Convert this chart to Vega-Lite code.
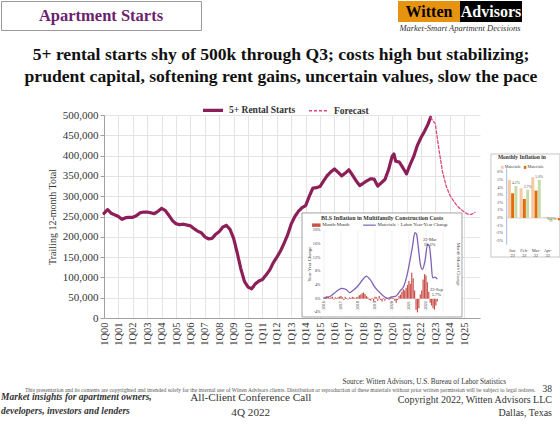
{
  "$schema": "https://vega.github.io/schema/vega-lite/v6.json",
  "background": "white",
  "padding": {"left": 0, "top": 0, "right": 0, "bottom": 0},
  "spacing": 28.5,
  "resolve": {
    "scale": {"color": "independent", "strokeDash": "independent", "strokeWidth": "independent"},
    "legend": {"color": "independent", "strokeDash": "independent", "strokeWidth": "independent"}
  },
  "config": {
    "view": {"stroke": null},
    "font": "Liberation Serif",
    "axis": {"labelFont": "Liberation Serif", "titleFont": "Liberation Serif"},
    "legend": {
      "orient": "none", "legendX": 97, "legendY": -17, "direction": "horizontal",
      "symbolType": "stroke", "symbolSize": 400, "labelFont": "Liberation Serif",
      "labelFontSize": 9.5, "labelFontWeight": "bold", "labelColor": "#333", "columnPadding": 10, "padding": 0
    }
  },
  "datasets": {
    "header": [{"label": "Apartment Starts"}],
    "logo": [{"word": "Witten"}, {"word": "Advisors"}],
    "starts": [
      {"t": 2000.0, "v": 258000, "s": "5+ Rental Starts"},
      {"t": 2000.25, "v": 267000, "s": "5+ Rental Starts"},
      {"t": 2000.5, "v": 258000, "s": "5+ Rental Starts"},
      {"t": 2000.75, "v": 254000, "s": "5+ Rental Starts"},
      {"t": 2001.0, "v": 250000, "s": "5+ Rental Starts"},
      {"t": 2001.25, "v": 243000, "s": "5+ Rental Starts"},
      {"t": 2001.5, "v": 247000, "s": "5+ Rental Starts"},
      {"t": 2001.75, "v": 248000, "s": "5+ Rental Starts"},
      {"t": 2002.0, "v": 248000, "s": "5+ Rental Starts"},
      {"t": 2002.25, "v": 252000, "s": "5+ Rental Starts"},
      {"t": 2002.5, "v": 259000, "s": "5+ Rental Starts"},
      {"t": 2002.75, "v": 261000, "s": "5+ Rental Starts"},
      {"t": 2003.0, "v": 261000, "s": "5+ Rental Starts"},
      {"t": 2003.25, "v": 259000, "s": "5+ Rental Starts"},
      {"t": 2003.5, "v": 257000, "s": "5+ Rental Starts"},
      {"t": 2003.75, "v": 263000, "s": "5+ Rental Starts"},
      {"t": 2004.0, "v": 270000, "s": "5+ Rental Starts"},
      {"t": 2004.25, "v": 265000, "s": "5+ Rental Starts"},
      {"t": 2004.5, "v": 253000, "s": "5+ Rental Starts"},
      {"t": 2004.75, "v": 240000, "s": "5+ Rental Starts"},
      {"t": 2005.0, "v": 232000, "s": "5+ Rental Starts"},
      {"t": 2005.25, "v": 230000, "s": "5+ Rental Starts"},
      {"t": 2005.5, "v": 231000, "s": "5+ Rental Starts"},
      {"t": 2005.75, "v": 229000, "s": "5+ Rental Starts"},
      {"t": 2006.0, "v": 227000, "s": "5+ Rental Starts"},
      {"t": 2006.25, "v": 220000, "s": "5+ Rental Starts"},
      {"t": 2006.5, "v": 214000, "s": "5+ Rental Starts"},
      {"t": 2006.75, "v": 210000, "s": "5+ Rental Starts"},
      {"t": 2007.0, "v": 200000, "s": "5+ Rental Starts"},
      {"t": 2007.25, "v": 195000, "s": "5+ Rental Starts"},
      {"t": 2007.5, "v": 196000, "s": "5+ Rental Starts"},
      {"t": 2007.75, "v": 206000, "s": "5+ Rental Starts"},
      {"t": 2008.0, "v": 213000, "s": "5+ Rental Starts"},
      {"t": 2008.25, "v": 224000, "s": "5+ Rental Starts"},
      {"t": 2008.5, "v": 228000, "s": "5+ Rental Starts"},
      {"t": 2008.75, "v": 218000, "s": "5+ Rental Starts"},
      {"t": 2009.0, "v": 196000, "s": "5+ Rental Starts"},
      {"t": 2009.25, "v": 160000, "s": "5+ Rental Starts"},
      {"t": 2009.5, "v": 121000, "s": "5+ Rental Starts"},
      {"t": 2009.75, "v": 90000, "s": "5+ Rental Starts"},
      {"t": 2010.0, "v": 76000, "s": "5+ Rental Starts"},
      {"t": 2010.25, "v": 72000, "s": "5+ Rental Starts"},
      {"t": 2010.5, "v": 84000, "s": "5+ Rental Starts"},
      {"t": 2010.75, "v": 91000, "s": "5+ Rental Starts"},
      {"t": 2011.0, "v": 95000, "s": "5+ Rental Starts"},
      {"t": 2011.25, "v": 106000, "s": "5+ Rental Starts"},
      {"t": 2011.5, "v": 118000, "s": "5+ Rental Starts"},
      {"t": 2011.75, "v": 136000, "s": "5+ Rental Starts"},
      {"t": 2012.0, "v": 150000, "s": "5+ Rental Starts"},
      {"t": 2012.25, "v": 165000, "s": "5+ Rental Starts"},
      {"t": 2012.5, "v": 184000, "s": "5+ Rental Starts"},
      {"t": 2012.75, "v": 205000, "s": "5+ Rental Starts"},
      {"t": 2013.0, "v": 232000, "s": "5+ Rental Starts"},
      {"t": 2013.25, "v": 250000, "s": "5+ Rental Starts"},
      {"t": 2013.5, "v": 263000, "s": "5+ Rental Starts"},
      {"t": 2013.75, "v": 272000, "s": "5+ Rental Starts"},
      {"t": 2014.0, "v": 277000, "s": "5+ Rental Starts"},
      {"t": 2014.25, "v": 300000, "s": "5+ Rental Starts"},
      {"t": 2014.5, "v": 320000, "s": "5+ Rental Starts"},
      {"t": 2014.75, "v": 321000, "s": "5+ Rental Starts"},
      {"t": 2015.0, "v": 324000, "s": "5+ Rental Starts"},
      {"t": 2015.25, "v": 338000, "s": "5+ Rental Starts"},
      {"t": 2015.5, "v": 351000, "s": "5+ Rental Starts"},
      {"t": 2015.75, "v": 360000, "s": "5+ Rental Starts"},
      {"t": 2016.0, "v": 367000, "s": "5+ Rental Starts"},
      {"t": 2016.25, "v": 359000, "s": "5+ Rental Starts"},
      {"t": 2016.5, "v": 350000, "s": "5+ Rental Starts"},
      {"t": 2016.75, "v": 357000, "s": "5+ Rental Starts"},
      {"t": 2017.0, "v": 365000, "s": "5+ Rental Starts"},
      {"t": 2017.25, "v": 352000, "s": "5+ Rental Starts"},
      {"t": 2017.5, "v": 338000, "s": "5+ Rental Starts"},
      {"t": 2017.75, "v": 326000, "s": "5+ Rental Starts"},
      {"t": 2018.0, "v": 332000, "s": "5+ Rental Starts"},
      {"t": 2018.25, "v": 338000, "s": "5+ Rental Starts"},
      {"t": 2018.5, "v": 343000, "s": "5+ Rental Starts"},
      {"t": 2018.75, "v": 342000, "s": "5+ Rental Starts"},
      {"t": 2019.0, "v": 325000, "s": "5+ Rental Starts"},
      {"t": 2019.25, "v": 333000, "s": "5+ Rental Starts"},
      {"t": 2019.5, "v": 341000, "s": "5+ Rental Starts"},
      {"t": 2019.75, "v": 365000, "s": "5+ Rental Starts"},
      {"t": 2020.0, "v": 398000, "s": "5+ Rental Starts"},
      {"t": 2020.125, "v": 404000, "s": "5+ Rental Starts"},
      {"t": 2020.25, "v": 386000, "s": "5+ Rental Starts"},
      {"t": 2020.5, "v": 384000, "s": "5+ Rental Starts"},
      {"t": 2020.75, "v": 370000, "s": "5+ Rental Starts"},
      {"t": 2021.0, "v": 355000, "s": "5+ Rental Starts"},
      {"t": 2021.25, "v": 378000, "s": "5+ Rental Starts"},
      {"t": 2021.5, "v": 398000, "s": "5+ Rental Starts"},
      {"t": 2021.75, "v": 425000, "s": "5+ Rental Starts"},
      {"t": 2022.0, "v": 444000, "s": "5+ Rental Starts"},
      {"t": 2022.25, "v": 460000, "s": "5+ Rental Starts"},
      {"t": 2022.5, "v": 478000, "s": "5+ Rental Starts"},
      {"t": 2022.667, "v": 494000, "s": "5+ Rental Starts"},
      {"t": 2022.667, "v": 494000, "s": "Forecast"},
      {"t": 2022.75, "v": 490000, "s": "Forecast"},
      {"t": 2023.0, "v": 478000, "s": "Forecast"},
      {"t": 2023.25, "v": 415000, "s": "Forecast"},
      {"t": 2023.5, "v": 360000, "s": "Forecast"},
      {"t": 2023.75, "v": 325000, "s": "Forecast"},
      {"t": 2024.0, "v": 303000, "s": "Forecast"},
      {"t": 2024.25, "v": 289000, "s": "Forecast"},
      {"t": 2024.5, "v": 277000, "s": "Forecast"},
      {"t": 2024.75, "v": 268000, "s": "Forecast"},
      {"t": 2025.0, "v": 261000, "s": "Forecast"},
      {"t": 2025.25, "v": 256000, "s": "Forecast"},
      {"t": 2025.5, "v": 255000, "s": "Forecast"},
      {"t": 2025.75, "v": 260000, "s": "Forecast"}
    ],
    "yoy": [
      {"t": 2016.0, "yoy": 0.1}, {"t": 2016.4, "yoy": 0.8}, {"t": 2016.75, "yoy": 2.2},
      {"t": 2017.04, "yoy": 3.0}, {"t": 2017.3, "yoy": 2.7}, {"t": 2017.5, "yoy": 1.8},
      {"t": 2017.7, "yoy": 2.4}, {"t": 2018.0, "yoy": 3.7}, {"t": 2018.3, "yoy": 5.7},
      {"t": 2018.5, "yoy": 6.6}, {"t": 2018.7, "yoy": 5.7}, {"t": 2018.95, "yoy": 3.7},
      {"t": 2019.2, "yoy": 2.2}, {"t": 2019.5, "yoy": 0.8}, {"t": 2019.73, "yoy": 0.1},
      {"t": 2020.0, "yoy": 0.5}, {"t": 2020.25, "yoy": 0.8}, {"t": 2020.47, "yoy": 2.2},
      {"t": 2020.7, "yoy": 3.7}, {"t": 2020.83, "yoy": 5.7}, {"t": 2021.0, "yoy": 9.6},
      {"t": 2021.2, "yoy": 15.0}, {"t": 2021.35, "yoy": 19.3}, {"t": 2021.45, "yoy": 18.8},
      {"t": 2021.55, "yoy": 15.0}, {"t": 2021.69, "yoy": 9.6}, {"t": 2021.8, "yoy": 8.6},
      {"t": 2021.94, "yoy": 11.0}, {"t": 2022.1, "yoy": 15.9}, {"t": 2022.2, "yoy": 15.4},
      {"t": 2022.3, "yoy": 11.0}, {"t": 2022.39, "yoy": 6.1}, {"t": 2022.53, "yoy": 6.3},
      {"t": 2022.67, "yoy": 5.7}
    ],
    "mom": [
      {"t": 2016.0, "mom": 0.2}, {"t": 2016.083, "mom": 0.3}, {"t": 2016.167, "mom": 0.4}, {"t": 2016.25, "mom": 0.3},
      {"t": 2016.333, "mom": 0.1}, {"t": 2016.417, "mom": 0.2}, {"t": 2016.5, "mom": 0.3}, {"t": 2016.583, "mom": -0.1},
      {"t": 2016.667, "mom": 0.2}, {"t": 2016.75, "mom": 0.1}, {"t": 2016.833, "mom": 0.2}, {"t": 2016.917, "mom": 0.3},
      {"t": 2017.0, "mom": 0.4}, {"t": 2017.083, "mom": 0.2}, {"t": 2017.167, "mom": -0.2}, {"t": 2017.25, "mom": 0.3},
      {"t": 2017.333, "mom": 0.1}, {"t": 2017.417, "mom": -0.1}, {"t": 2017.5, "mom": 0.2}, {"t": 2017.583, "mom": 0.1},
      {"t": 2017.667, "mom": 0.3}, {"t": 2017.75, "mom": 0.2}, {"t": 2017.833, "mom": 0.1}, {"t": 2017.917, "mom": 0.2},
      {"t": 2018.0, "mom": 0.3}, {"t": 2018.083, "mom": 0.5}, {"t": 2018.167, "mom": 0.6}, {"t": 2018.25, "mom": 0.8},
      {"t": 2018.333, "mom": 0.9}, {"t": 2018.417, "mom": 0.7}, {"t": 2018.5, "mom": 0.4}, {"t": 2018.583, "mom": 0.2},
      {"t": 2018.667, "mom": -0.2}, {"t": 2018.75, "mom": -0.3}, {"t": 2018.833, "mom": 0.1}, {"t": 2018.917, "mom": -0.4},
      {"t": 2019.0, "mom": 0.3}, {"t": 2019.083, "mom": 0.2}, {"t": 2019.167, "mom": -0.3}, {"t": 2019.25, "mom": 0.4},
      {"t": 2019.333, "mom": -0.2}, {"t": 2019.417, "mom": -0.4}, {"t": 2019.5, "mom": 0.1}, {"t": 2019.583, "mom": -0.3},
      {"t": 2019.667, "mom": 0.2}, {"t": 2019.75, "mom": 0.1}, {"t": 2019.833, "mom": -0.2}, {"t": 2019.917, "mom": 0.3},
      {"t": 2020.0, "mom": 0.2}, {"t": 2020.083, "mom": 0.1}, {"t": 2020.167, "mom": -0.3}, {"t": 2020.25, "mom": -0.6},
      {"t": 2020.333, "mom": -0.2}, {"t": 2020.417, "mom": 0.4}, {"t": 2020.5, "mom": 0.6}, {"t": 2020.583, "mom": 1.0},
      {"t": 2020.667, "mom": 1.4}, {"t": 2020.75, "mom": 1.2}, {"t": 2020.833, "mom": 1.6}, {"t": 2020.917, "mom": 2.0},
      {"t": 2021.0, "mom": 2.6}, {"t": 2021.083, "mom": 2.2}, {"t": 2021.167, "mom": 3.8}, {"t": 2021.25, "mom": 3.0},
      {"t": 2021.333, "mom": 1.2}, {"t": 2021.417, "mom": -1.6}, {"t": 2021.5, "mom": -2.0}, {"t": 2021.583, "mom": -1.4},
      {"t": 2021.667, "mom": 0.6}, {"t": 2021.75, "mom": 1.2}, {"t": 2021.833, "mom": 2.8}, {"t": 2021.917, "mom": 3.6},
      {"t": 2022.0, "mom": 3.4}, {"t": 2022.083, "mom": 2.4}, {"t": 2022.167, "mom": 1.0}, {"t": 2022.25, "mom": -0.6},
      {"t": 2022.333, "mom": -1.0}, {"t": 2022.417, "mom": -1.4}, {"t": 2022.5, "mom": -1.6}, {"t": 2022.583, "mom": -1.0},
      {"t": 2022.667, "mom": -0.4}
    ],
    "insetGrid": [{"yr": 2016}, {"yr": 2017}, {"yr": 2018}, {"yr": 2019}, {"yr": 2020}, {"yr": 2021}, {"yr": 2022}, {"yr": 2023}],
    "insetYears": [
      {"yr": 2016, "lbl": "2016"}, {"yr": 2017, "lbl": "2017"}, {"yr": 2018, "lbl": "2018"}, {"yr": 2019, "lbl": "2019"},
      {"yr": 2020, "lbl": "2020"}, {"yr": 2021, "lbl": "2021"}, {"yr": 2022, "lbl": "2022"}
    ],
    "insetTicks": [
      {"p": 20, "lbl": "20%"}, {"p": 16, "lbl": "16%"}, {"p": 12, "lbl": "12%"}, {"p": 8, "lbl": "8%"},
      {"p": 4, "lbl": "4%"}, {"p": 0, "lbl": "0%"}, {"p": -4, "lbl": "-4%"}
    ],
    "insetNotes": [
      {"t": 2022.1, "yoy": 15.9, "lbl": ["22-Mar", "16.5%"], "pos": "above"},
      {"t": 2022.67, "yoy": 5.7, "lbl": ["22-Sep", "5.7%"], "pos": "below"}
    ],
    "monthly": [
      {"m": 0, "a": 5.0, "b": 3.25, "c": 4.2, "cl": "4.2%", "lbl": ["Jan-", "22"]},
      {"m": 1, "a": 3.9, "b": 2.5, "c": 3.7, "cl": "3.7%", "lbl": ["Feb-", "22"]},
      {"m": 2, "a": 5.35, "b": 3.6, "c": 5.0, "cl": "5.0%", "lbl": ["Mar-", "22"]},
      {"m": 3, "a": 0.1, "b": 0.05, "c": -0.5, "cl": "-0.5%", "lbl": ["Apr-", "22"]},
      {"m": 4, "a": -0.2, "b": -0.3}
    ],
    "monthlyTicks": [
      {"p": 6, "lbl": "6%"}, {"p": 5, "lbl": "5%"}, {"p": 4, "lbl": "4%"}, {"p": 3, "lbl": "3%"}, {"p": 2, "lbl": "2%"},
      {"p": 1, "lbl": "1%"}, {"p": 0, "lbl": "0%"}, {"p": -1, "lbl": "-1%"}, {"p": -2, "lbl": "-2%"}, {"p": -3, "lbl": "-3%"}
    ],
    "footer": [
      {"grp": "src", "col": "right", "line": "src", "txt": "Source:  Witten Advisors, U.S. Bureau of Labor Statistics"},
      {"grp": "note", "col": "center", "line": "note", "txt": "This presentation and its contents are copyrighted and intended solely for the internal use of Witten Advisors clients.  Distribution or reproduction of these materials without prior written permission will be subject to legal redress."},
      {"grp": "page", "col": "right", "line": "note", "txt": "38"},
      {"grp": "left", "col": "left", "line": "blk", "txt": ["Market insights for apartment owners,", "developers, investors and lenders"]},
      {"grp": "center", "col": "center", "line": "blk", "txt": ["All-Client Conference Call", "4Q 2022"]},
      {"grp": "right", "col": "right", "line": "blk", "txt": ["Copyright 2022, Witten Advisors LLC", "Dallas, Texas"]}
    ]
  },
  "vconcat": [
    {
      "spacing": 13,
      "resolve": {
        "scale": {"color": "independent", "strokeDash": "independent", "strokeWidth": "independent"},
        "legend": {"color": "independent", "strokeDash": "independent", "strokeWidth": "independent"}
      },
      "vconcat": [
        {
          "spacing": 196,
          "hconcat": [
            {
              "width": 200, "height": 29,
              "view": {"stroke": "#9a9a9a", "strokeWidth": 1, "fill": "white"},
              "data": {"name": "header"},
              "mark": {"type": "text", "font": "Liberation Serif", "fontSize": 16.5, "fontWeight": "bold", "color": "#6B1F6F"},
              "encoding": {"text": {"field": "label"}}
            },
            {
              "width": 124, "height": 21,
              "title": {"text": "Market-Smart Apartment Decisions", "orient": "bottom", "anchor": "middle", "font": "Liberation Serif", "fontSize": 8.5, "fontStyle": "italic", "fontWeight": "normal", "color": "#333", "offset": 2},
              "data": {"name": "logo"},
              "encoding": {
                "x": {"field": "word", "type": "nominal", "scale": {"type": "band", "domain": ["Witten", "Advisors"], "paddingInner": 0, "paddingOuter": 0}, "axis": null}
              },
              "layer": [
                {
                  "mark": {"type": "rect"},
                  "encoding": {"color": {"condition": {"test": "datum.word === 'Witten'", "value": "#E8930F"}, "value": "#000000"}}
                },
                {
                  "mark": {"type": "text", "font": "Liberation Serif", "fontSize": 16, "fontWeight": "bold"},
                  "encoding": {
                    "text": {"field": "word"},
                    "color": {"condition": {"test": "datum.word === 'Advisors'", "value": "#ffffff"}, "value": "#000000"}
                  }
                }
              ]
            }
          ]
        },
        {
          "spacing": 0,
          "resolve": {
            "scale": {"color": "independent", "strokeDash": "independent", "strokeWidth": "independent"},
            "legend": {"color": "independent", "strokeDash": "independent", "strokeWidth": "independent"}
          },
          "hconcat": [
            {"width": 23, "height": 10, "data": {"values": []}, "mark": "point"},
            {
              "width": 376, "height": 203,
              "title": {
                "text": ["5+ rental starts shy of 500k through Q3; costs high but stabilizing;", "prudent capital, softening rent gains, uncertain values, slow the pace"],
                "font": "Liberation Serif", "fontSize": 17.6, "fontWeight": "bold", "color": "#111",
                "anchor": "middle", "frame": "group", "dx": -11, "offset": 12, "lineHeight": 22
              },
              "resolve": {"scale": {"x": "independent", "y": "independent"}},
              "layer": [
                {
                  "data": {"name": "starts"},
                  "mark": {"type": "line", "strokeJoin": "round", "strokeCap": "round"},
                  "encoding": {
                    "x": {
                      "field": "t", "type": "quantitative",
                      "scale": {"domain": [2000, 2026.1], "nice": false, "zero": false},
                      "axis": {
                        "title": null,
                        "values": [2000, 2001, 2002, 2003, 2004, 2005, 2006, 2007, 2008, 2009, 2010, 2011, 2012, 2013, 2014, 2015, 2016, 2017, 2018, 2019, 2020, 2021, 2022, 2023, 2024, 2025],
                        "labelExpr": "'1Q' + substring(toString(datum.value), 2, 4)",
                        "labelAngle": 270, "labelFontSize": 10.5, "labelColor": "#333", "labelPadding": 4,
                        "ticks": false, "grid": true, "gridColor": "#e4e4e4", "domainColor": "#a0a0a0"
                      }
                    },
                    "y": {
                      "field": "v", "type": "quantitative",
                      "scale": {"domain": [0, 500000], "nice": false},
                      "axis": {
                        "values": [0, 50000, 100000, 150000, 200000, 250000, 300000, 350000, 400000, 450000, 500000],
                        "format": ",d", "labelFontSize": 11, "labelColor": "#333",
                        "grid": true, "gridColor": "#e4e4e4", "tickSize": 4, "tickColor": "#a0a0a0", "domainColor": "#a0a0a0",
                        "title": "Trailing 12-month Total", "titleFontSize": 10, "titleFontWeight": "normal", "titleColor": "#333", "titlePadding": 5
                      }
                    },
                    "color": {"field": "s", "type": "nominal", "scale": {"domain": ["5+ Rental Starts", "Forecast"], "range": ["#8C1F58", "#E2467F"]}, "legend": {"title": null}},
                    "strokeDash": {"field": "s", "type": "nominal", "scale": {"domain": ["5+ Rental Starts", "Forecast"], "range": [[1, 0], [3, 2]]}, "legend": {"title": null}},
                    "strokeWidth": {"field": "s", "type": "nominal", "scale": {"type": "point", "padding": 0, "domain": ["5+ Rental Starts", "Forecast"], "range": [3.2, 1.3]}, "legend": {"title": null}}
                  }
                },
                {
                  "data": {"values": [{}]},
                  "mark": {"type": "rect", "fill": "white", "stroke": "#8c8c8c", "strokeWidth": 0.8},
                  "encoding": {
                    "x": {"datum": 2014.71, "type": "quantitative", "scale": {"domain": [2003.06, 2025.18], "nice": false, "zero": false}, "axis": null},
                    "x2": {"datum": 2024.12},
                    "y": {"datum": 25.06, "type": "quantitative", "scale": {"domain": [-5.64, 53.7], "nice": false, "zero": false}, "axis": null},
                    "y2": {"datum": -5.35}
                  }
                },
                {
                  "data": {"name": "insetGrid"},
                  "mark": {"type": "rule", "color": "#e6e6e6", "strokeWidth": 0.6},
                  "encoding": {
                    "x": {"field": "yr", "type": "quantitative", "scale": {"domain": [2003.06, 2025.18], "nice": false, "zero": false}, "axis": null},
                    "y": {"datum": -4, "type": "quantitative", "scale": {"domain": [-5.64, 53.7], "nice": false, "zero": false}, "axis": null},
                    "y2": {"datum": 20}
                  }
                },
                {
                  "data": {"name": "mom"},
                  "mark": {"type": "rule", "color": "#C9504B", "strokeWidth": 1.2},
                  "encoding": {
                    "x": {"field": "t", "type": "quantitative", "scale": {"domain": [2003.06, 2025.18], "nice": false, "zero": false}, "axis": null},
                    "y": {"field": "mom", "type": "quantitative", "scale": {"domain": [-2.82, 26.85], "nice": false, "zero": false}, "axis": null},
                    "y2": {"datum": 0}
                  }
                },
                {
                  "data": {"name": "yoy"},
                  "mark": {"type": "line", "color": "#7F62B5", "strokeWidth": 1.3, "interpolate": "monotone"},
                  "encoding": {
                    "x": {"field": "t", "type": "quantitative", "scale": {"domain": [2003.06, 2025.18], "nice": false, "zero": false}, "axis": null},
                    "y": {"field": "yoy", "type": "quantitative", "scale": {"domain": [-5.64, 53.7], "nice": false, "zero": false}, "axis": null}
                  }
                },
                {
                  "data": {"values": [{}]},
                  "mark": {"type": "text", "fontSize": 5.9, "fontWeight": "bold", "color": "#333"},
                  "encoding": {
                    "x": {"datum": 2019.42, "type": "quantitative", "scale": {"domain": [2003.06, 2025.18], "nice": false, "zero": false}, "axis": null},
                    "y": {"datum": 23.6, "type": "quantitative", "scale": {"domain": [-5.64, 53.7], "nice": false, "zero": false}, "axis": null},
                    "text": {"value": "BLS Inflation in Multifamily Construction Costs"}
                  }
                },
                {
                  "data": {"values": [{}]},
                  "mark": {"type": "rect", "fill": "#C9504B"},
                  "encoding": {
                    "x": {"datum": 2015.3, "type": "quantitative", "scale": {"domain": [2003.06, 2025.18], "nice": false, "zero": false}, "axis": null},
                    "x2": {"datum": 2015.8},
                    "y": {"datum": 22.0, "type": "quantitative", "scale": {"domain": [-5.64, 53.7], "nice": false, "zero": false}, "axis": null},
                    "y2": {"datum": 21.0}
                  }
                },
                {
                  "data": {"values": [{}]},
                  "mark": {"type": "text", "fontSize": 4.8, "align": "left", "color": "#333"},
                  "encoding": {
                    "x": {"datum": 2015.9, "type": "quantitative", "scale": {"domain": [2003.06, 2025.18], "nice": false, "zero": false}, "axis": null},
                    "y": {"datum": 21.5, "type": "quantitative", "scale": {"domain": [-5.64, 53.7], "nice": false, "zero": false}, "axis": null},
                    "text": {"value": "Month-Month"}
                  }
                },
                {
                  "data": {"values": [{}]},
                  "mark": {"type": "rule", "color": "#7F62B5", "strokeWidth": 1.2},
                  "encoding": {
                    "x": {"datum": 2018.3, "type": "quantitative", "scale": {"domain": [2003.06, 2025.18], "nice": false, "zero": false}, "axis": null},
                    "x2": {"datum": 2019.05},
                    "y": {"datum": 21.5, "type": "quantitative", "scale": {"domain": [-5.64, 53.7], "nice": false, "zero": false}, "axis": null}
                  }
                },
                {
                  "data": {"values": [{}]},
                  "mark": {"type": "text", "fontSize": 4.8, "align": "left", "color": "#333"},
                  "encoding": {
                    "x": {"datum": 2019.15, "type": "quantitative", "scale": {"domain": [2003.06, 2025.18], "nice": false, "zero": false}, "axis": null},
                    "y": {"datum": 21.5, "type": "quantitative", "scale": {"domain": [-5.64, 53.7], "nice": false, "zero": false}, "axis": null},
                    "text": {"value": "Materials + Labor Year-Year Change"}
                  }
                },
                {
                  "data": {"values": [{}]},
                  "mark": {"type": "text", "fontSize": 4.8, "angle": 270, "color": "#333"},
                  "encoding": {
                    "x": {"datum": 2015.18, "type": "quantitative", "scale": {"domain": [2003.06, 2025.18], "nice": false, "zero": false}, "axis": null},
                    "y": {"datum": 10.1, "type": "quantitative", "scale": {"domain": [-5.64, 53.7], "nice": false, "zero": false}, "axis": null},
                    "text": {"value": "Year-Year Change"}
                  }
                },
                {
                  "data": {"values": [{}]},
                  "mark": {"type": "text", "fontSize": 4.8, "angle": 90, "color": "#333"},
                  "encoding": {
                    "x": {"datum": 2023.88, "type": "quantitative", "scale": {"domain": [2003.06, 2025.18], "nice": false, "zero": false}, "axis": null},
                    "y": {"datum": 10.1, "type": "quantitative", "scale": {"domain": [-5.64, 53.7], "nice": false, "zero": false}, "axis": null},
                    "text": {"value": "Month-Month Change"}
                  }
                },
                {
                  "data": {"name": "insetTicks"},
                  "mark": {"type": "text", "fontSize": 4.2, "align": "right", "color": "#444"},
                  "encoding": {
                    "x": {"datum": 2015.8, "type": "quantitative", "scale": {"domain": [2003.06, 2025.18], "nice": false, "zero": false}, "axis": null},
                    "y": {"field": "p", "type": "quantitative", "scale": {"domain": [-5.64, 53.7], "nice": false, "zero": false}, "axis": null},
                    "text": {"field": "lbl"}
                  }
                },
                {
                  "data": {"name": "insetYears"},
                  "mark": {"type": "text", "fontSize": 4.2, "angle": 270, "align": "right", "color": "#444"},
                  "encoding": {
                    "x": {"field": "yr", "type": "quantitative", "scale": {"domain": [2003.06, 2025.18], "nice": false, "zero": false}, "axis": null},
                    "y": {"datum": -0.7, "type": "quantitative", "scale": {"domain": [-5.64, 53.7], "nice": false, "zero": false}, "axis": null},
                    "text": {"field": "lbl"}
                  }
                },
                {
                  "data": {"name": "insetNotes"},
                  "transform": [{"filter": "datum.pos === 'above'"}],
                  "mark": {"type": "text", "fontSize": 4.5, "baseline": "bottom", "dy": -2, "dx": 2, "lineHeight": 5, "color": "#333"},
                  "encoding": {
                    "x": {"field": "t", "type": "quantitative", "scale": {"domain": [2003.06, 2025.18], "nice": false, "zero": false}, "axis": null},
                    "y": {"field": "yoy", "type": "quantitative", "scale": {"domain": [-5.64, 53.7], "nice": false, "zero": false}, "axis": null},
                    "text": {"field": "lbl"}
                  }
                },
                {
                  "data": {"name": "insetNotes"},
                  "transform": [{"filter": "datum.pos === 'below'"}],
                  "mark": {"type": "text", "fontSize": 4.5, "baseline": "top", "dy": 8, "dx": -1, "lineHeight": 5, "color": "#333"},
                  "encoding": {
                    "x": {"field": "t", "type": "quantitative", "scale": {"domain": [2003.06, 2025.18], "nice": false, "zero": false}, "axis": null},
                    "y": {"field": "yoy", "type": "quantitative", "scale": {"domain": [-5.64, 53.7], "nice": false, "zero": false}, "axis": null},
                    "text": {"field": "lbl"}
                  }
                },
                {
                  "data": {"values": [{}]},
                  "mark": {"type": "rect", "fill": "white", "stroke": "#b8b8b8", "strokeWidth": 0.8},
                  "encoding": {
                    "x": {"datum": -1.855, "type": "quantitative", "scale": {"domain": [-34.93, -2.79], "nice": false, "zero": false}, "axis": null},
                    "x2": {"datum": 4.04},
                    "y": {"datum": 8.4, "type": "quantitative", "scale": {"domain": [-13.12, 13.52], "nice": false, "zero": false}, "axis": null},
                    "y2": {"datum": -5.12}
                  }
                },
                {
                  "data": {"values": [{}]},
                  "mark": {"type": "rule", "color": "#b0b0b0", "strokeWidth": 0.5},
                  "encoding": {
                    "x": {"datum": -0.51, "type": "quantitative", "scale": {"domain": [-34.93, -2.79], "nice": false, "zero": false}, "axis": null},
                    "x2": {"datum": 3.95},
                    "y": {"datum": 0, "type": "quantitative", "scale": {"domain": [-13.12, 13.52], "nice": false, "zero": false}, "axis": null}
                  }
                },
                {
                  "data": {"values": [{}]},
                  "mark": {"type": "rule", "color": "#8EA9DB", "strokeWidth": 0.8},
                  "encoding": {
                    "x": {"datum": -0.51, "type": "quantitative", "scale": {"domain": [-34.93, -2.79], "nice": false, "zero": false}, "axis": null},
                    "y": {"datum": 6.5, "type": "quantitative", "scale": {"domain": [-13.12, 13.52], "nice": false, "zero": false}, "axis": null},
                    "y2": {"datum": -3.5}
                  }
                },
                {
                  "data": {"name": "monthly"},
                  "mark": {"type": "rule", "color": "#F7C8A2", "strokeWidth": 3},
                  "encoding": {
                    "x": {"field": "m", "type": "quantitative", "scale": {"domain": [-34.65, -2.51], "nice": false, "zero": false}, "axis": null},
                    "y": {"field": "a", "type": "quantitative", "scale": {"domain": [-13.12, 13.52], "nice": false, "zero": false}, "axis": null},
                    "y2": {"datum": 0}
                  }
                },
                {
                  "data": {"name": "monthly"},
                  "mark": {"type": "rule", "color": "#E46C0A", "strokeWidth": 3},
                  "encoding": {
                    "x": {"field": "m", "type": "quantitative", "scale": {"domain": [-34.93, -2.79], "nice": false, "zero": false}, "axis": null},
                    "y": {"field": "b", "type": "quantitative", "scale": {"domain": [-13.12, 13.52], "nice": false, "zero": false}, "axis": null},
                    "y2": {"datum": 0}
                  }
                },
                {
                  "data": {"name": "monthly"},
                  "mark": {"type": "rule", "color": "#C6DDAA", "strokeWidth": 3},
                  "encoding": {
                    "x": {"field": "m", "type": "quantitative", "scale": {"domain": [-35.21, -3.07], "nice": false, "zero": false}, "axis": null},
                    "y": {"field": "c", "type": "quantitative", "scale": {"domain": [-13.12, 13.52], "nice": false, "zero": false}, "axis": null},
                    "y2": {"datum": 0}
                  }
                },
                {
                  "data": {"name": "monthly"},
                  "mark": {"type": "text", "fontSize": 3.8, "baseline": "bottom", "dy": -1, "color": "#555"},
                  "encoding": {
                    "x": {"field": "m", "type": "quantitative", "scale": {"domain": [-35.21, -3.07], "nice": false, "zero": false}, "axis": null},
                    "y": {"field": "c", "type": "quantitative", "scale": {"domain": [-13.12, 13.52], "nice": false, "zero": false}, "axis": null},
                    "text": {"field": "cl"}
                  }
                },
                {
                  "data": {"name": "monthlyTicks"},
                  "mark": {"type": "text", "fontSize": 4.2, "align": "right", "color": "#444"},
                  "encoding": {
                    "x": {"datum": -0.83, "type": "quantitative", "scale": {"domain": [-34.93, -2.79], "nice": false, "zero": false}, "axis": null},
                    "y": {"field": "p", "type": "quantitative", "scale": {"domain": [-13.12, 13.52], "nice": false, "zero": false}, "axis": null},
                    "text": {"field": "lbl"}
                  }
                },
                {
                  "data": {"name": "monthly"},
                  "transform": [{"filter": "isValid(datum.lbl)"}],
                  "mark": {"type": "text", "fontSize": 4.4, "baseline": "top", "lineHeight": 5, "color": "#444"},
                  "encoding": {
                    "x": {"field": "m", "type": "quantitative", "scale": {"domain": [-34.93, -2.79], "nice": false, "zero": false}, "axis": null},
                    "y": {"datum": -4.1, "type": "quantitative", "scale": {"domain": [-13.12, 13.52], "nice": false, "zero": false}, "axis": null},
                    "text": {"field": "lbl"}
                  }
                },
                {
                  "data": {"values": [{}]},
                  "mark": {"type": "text", "fontSize": 5.5, "fontWeight": "bold", "align": "left", "color": "#333"},
                  "encoding": {
                    "x": {"datum": -1.26, "type": "quantitative", "scale": {"domain": [-34.93, -2.79], "nice": false, "zero": false}, "axis": null},
                    "y": {"datum": 8.0, "type": "quantitative", "scale": {"domain": [-13.12, 13.52], "nice": false, "zero": false}, "axis": null},
                    "text": {"value": "Monthly Inflation in"}
                  }
                },
                {
                  "data": {"values": [{}]},
                  "mark": {"type": "rect", "fill": "#F7C8A2"},
                  "encoding": {
                    "x": {"datum": -1.0, "type": "quantitative", "scale": {"domain": [-34.93, -2.79], "nice": false, "zero": false}, "axis": null},
                    "x2": {"datum": -0.78},
                    "y": {"datum": 6.85, "type": "quantitative", "scale": {"domain": [-13.12, 13.52], "nice": false, "zero": false}, "axis": null},
                    "y2": {"datum": 6.45}
                  }
                },
                {
                  "data": {"values": [{}]},
                  "mark": {"type": "text", "fontSize": 4.2, "align": "left", "color": "#444"},
                  "encoding": {
                    "x": {"datum": -0.68, "type": "quantitative", "scale": {"domain": [-34.93, -2.79], "nice": false, "zero": false}, "axis": null},
                    "y": {"datum": 6.65, "type": "quantitative", "scale": {"domain": [-13.12, 13.52], "nice": false, "zero": false}, "axis": null},
                    "text": {"value": "Materials"}
                  }
                },
                {
                  "data": {"values": [{}]},
                  "mark": {"type": "rect", "fill": "#E46C0A"},
                  "encoding": {
                    "x": {"datum": 0.95, "type": "quantitative", "scale": {"domain": [-34.93, -2.79], "nice": false, "zero": false}, "axis": null},
                    "x2": {"datum": 1.17},
                    "y": {"datum": 6.85, "type": "quantitative", "scale": {"domain": [-13.12, 13.52], "nice": false, "zero": false}, "axis": null},
                    "y2": {"datum": 6.45}
                  }
                },
                {
                  "data": {"values": [{}]},
                  "mark": {"type": "text", "fontSize": 4.2, "align": "left", "color": "#444"},
                  "encoding": {
                    "x": {"datum": 1.27, "type": "quantitative", "scale": {"domain": [-34.93, -2.79], "nice": false, "zero": false}, "axis": null},
                    "y": {"datum": 6.65, "type": "quantitative", "scale": {"domain": [-13.12, 13.52], "nice": false, "zero": false}, "axis": null},
                    "text": {"value": "Materials"}
                  }
                }
              ]
            }
          ]
        }
      ]
    },
    {
      "width": 551, "height": 30,
      "data": {"name": "footer"},
      "encoding": {
        "x": {"field": "col", "type": "nominal", "scale": {"type": "band", "domain": ["left", "center", "right"], "paddingInner": 0, "paddingOuter": 0}, "axis": null},
        "y": {"field": "line", "type": "ordinal", "scale": {"type": "point", "domain": ["src", "note", "blk"], "padding": 1, "align": 0.5}, "axis": null},
        "text": {"field": "txt"}
      },
      "layer": [
        {
          "transform": [{"filter": "datum.grp === 'src'"}],
          "mark": {"type": "text", "align": "right", "fontSize": 7.2, "color": "#333"},
          "encoding": {"x": {"field": "col", "type": "nominal", "bandPosition": 0.75, "scale": {"type": "band", "domain": ["left", "center", "right"], "paddingInner": 0, "paddingOuter": 0}, "axis": null}}
        },
        {
          "transform": [{"filter": "datum.grp === 'note'"}],
          "mark": {"type": "text", "align": "center", "fontSize": 5.6, "color": "#555"},
          "encoding": {"x": {"field": "col", "type": "nominal", "bandPosition": 0.52, "scale": {"type": "band", "domain": ["left", "center", "right"], "paddingInner": 0, "paddingOuter": 0}, "axis": null}}
        },
        {
          "transform": [{"filter": "datum.grp === 'page'"}],
          "mark": {"type": "text", "align": "right", "fontSize": 9.5, "color": "#333", "dy": -1},
          "encoding": {"x": {"field": "col", "type": "nominal", "bandPosition": 1, "scale": {"type": "band", "domain": ["left", "center", "right"], "paddingInner": 0, "paddingOuter": 0}, "axis": null}}
        },
        {
          "transform": [{"filter": "datum.grp === 'left'"}],
          "mark": {"type": "text", "align": "left", "fontSize": 9.5, "fontWeight": "bold", "fontStyle": "italic", "color": "#333", "lineHeight": 14},
          "encoding": {"x": {"field": "col", "type": "nominal", "bandPosition": 0, "scale": {"type": "band", "domain": ["left", "center", "right"], "paddingInner": 0, "paddingOuter": 0}, "axis": null}}
        },
        {
          "transform": [{"filter": "datum.grp === 'center'"}],
          "mark": {"type": "text", "align": "center", "fontSize": 11.2, "color": "#333", "lineHeight": 15, "dy": 1},
          "encoding": {"x": {"field": "col", "type": "nominal", "bandPosition": 0.36, "scale": {"type": "band", "domain": ["left", "center", "right"], "paddingInner": 0, "paddingOuter": 0}, "axis": null}}
        },
        {
          "transform": [{"filter": "datum.grp === 'right'"}],
          "mark": {"type": "text", "align": "right", "fontSize": 10, "color": "#333", "lineHeight": 13, "dy": 2.5},
          "encoding": {"x": {"field": "col", "type": "nominal", "bandPosition": 1, "scale": {"type": "band", "domain": ["left", "center", "right"], "paddingInner": 0, "paddingOuter": 0}, "axis": null}}
        }
      ]
    }
  ]
}
